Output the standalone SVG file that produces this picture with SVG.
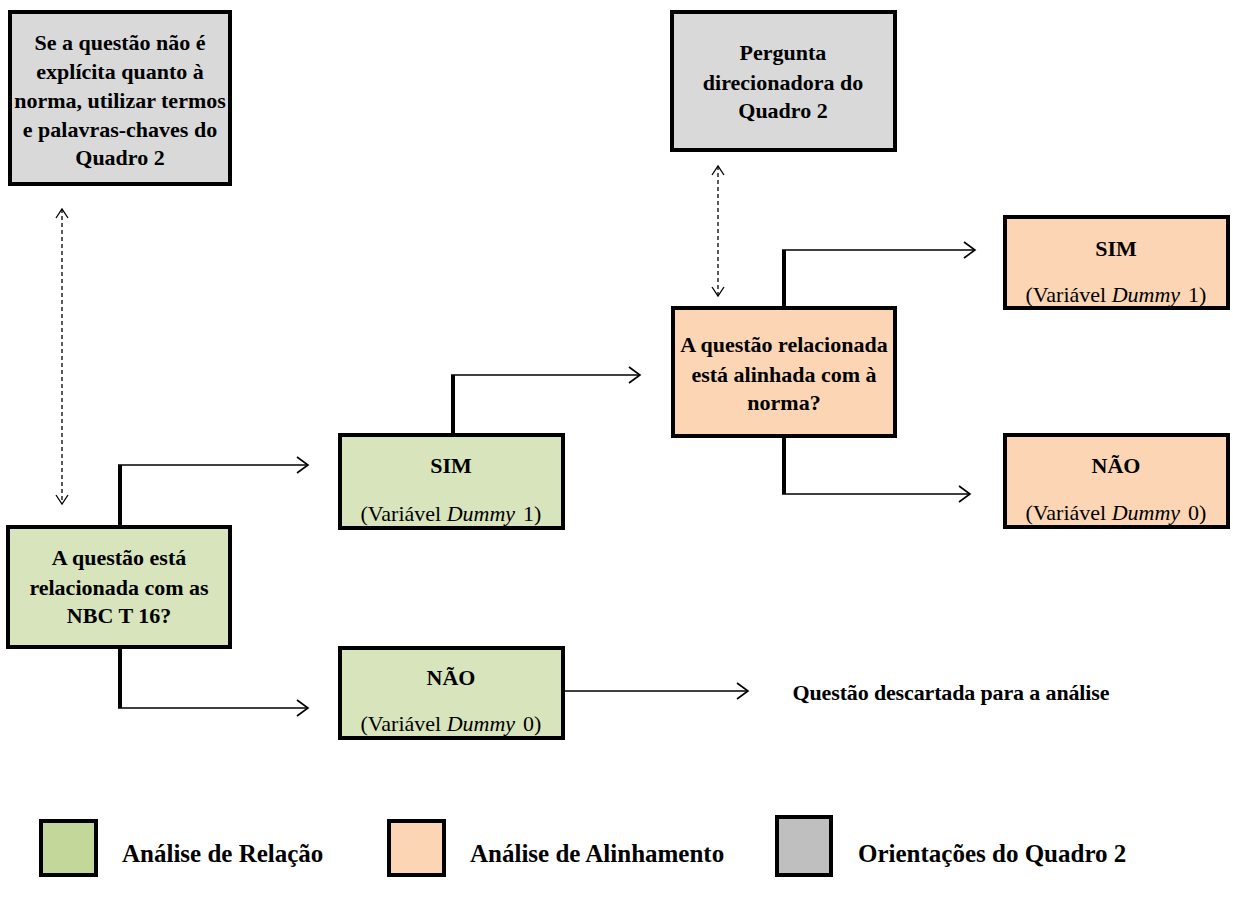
<svg xmlns="http://www.w3.org/2000/svg" width="1233" height="900" viewBox="0 0 1233 900">
<defs>
<style>
.box{stroke:#000;stroke-width:4}
.gray{fill:#d9d9d9}
.green{fill:#d8e4bc}
.orange{fill:#fcd5b4}
.t{font-family:"Liberation Serif","Times New Roman",serif;font-size:22px;fill:#000;text-anchor:middle}
.b{font-weight:bold}
.i{font-style:italic}
.thick{stroke:#000;stroke-width:4;fill:none}
.thin{stroke:#000;stroke-width:1.6;fill:none}
.dash{stroke:#000;stroke-width:1.3;fill:none;stroke-dasharray:4,3}
.leg{font-family:"Liberation Serif","Times New Roman",serif;font-size:25px;font-weight:bold;fill:#000}
</style>
<marker id="arr" markerUnits="userSpaceOnUse" markerWidth="16" markerHeight="20" refX="13" refY="10" orient="auto">
<path d="M2,2 L13,10 L2,18" fill="none" stroke="#000" stroke-width="1.6"/>
</marker>
<marker id="darr" markerUnits="userSpaceOnUse" markerWidth="14" markerHeight="16" refX="11" refY="8" orient="auto-start-reverse">
<path d="M2,2 L11,8 L2,14" fill="none" stroke="#000" stroke-width="1.3"/>
</marker>
</defs>
<rect width="1233" height="900" fill="#fff"/>

<g id="connectors">
<path class="dash" d="M62,209 V504" marker-start="url(#darr)" marker-end="url(#darr)"/>
<path class="dash" d="M718,166 V296" marker-start="url(#darr)" marker-end="url(#darr)"/>
<path class="thick" d="M120,527 V465"/>
<path class="thin" d="M118,465 H308" marker-end="url(#arr)"/>
<path class="thick" d="M120,647 V708"/>
<path class="thin" d="M118,708 H308" marker-end="url(#arr)"/>
<path class="thick" d="M453,435 V375"/>
<path class="thin" d="M451,375 H640" marker-end="url(#arr)"/>
<path class="thin" d="M563,691 H748" marker-end="url(#arr)"/>
<path class="thick" d="M784,308 V250"/>
<path class="thin" d="M782,250 H975" marker-end="url(#arr)"/>
<path class="thick" d="M784,436 V494"/>
<path class="thin" d="M782,494 H970" marker-end="url(#arr)"/>
</g>

<g id="node-orientacao">
<rect class="box gray" x="10" y="12" width="220" height="172"/>
<text class="t b" x="120" y="50">Se a questão não é</text>
<text class="t b" x="120" y="79">explícita quanto à</text>
<text class="t b" x="120" y="108">norma, utilizar termos</text>
<text class="t b" x="120" y="137">e palavras-chaves do</text>
<text class="t b" x="120" y="165">Quadro 2</text>
</g>

<g id="node-pergunta">
<rect class="box gray" x="672" y="12" width="223" height="138"/>
<text class="t b" x="783" y="60">Pergunta</text>
<text class="t b" x="783" y="90">direcionadora do</text>
<text class="t b" x="783" y="118">Quadro 2</text>
</g>

<g id="node-relacao">
<rect class="box green" x="8" y="527" width="222" height="120"/>
<text class="t b" x="119" y="565">A questão está</text>
<text class="t b" x="119" y="595">relacionada com as</text>
<text class="t b" x="119" y="623">NBC T 16?</text>
</g>

<g id="node-sim1">
<rect class="box green" x="340" y="435" width="223" height="93"/>
<text class="t b" x="451" y="473">SIM</text>
<text class="t" x="451" y="521">(Variável <tspan class="i">Dummy</tspan><tspan dx="8">1)</tspan></text>
</g>

<g id="node-nao1">
<rect class="box green" x="340" y="648" width="223" height="90"/>
<text class="t b" x="451" y="685">NÃO</text>
<text class="t" x="451" y="731">(Variável <tspan class="i">Dummy</tspan><tspan dx="8">0)</tspan></text>
</g>

<g id="node-descartada">
<text class="t b" x="951" y="700" textLength="317" lengthAdjust="spacing">Questão descartada para a análise</text>
</g>

<g id="node-alinhamento">
<rect class="box orange" x="673" y="308" width="222" height="128"/>
<text class="t b" x="784" y="352">A questão relacionada</text>
<text class="t b" x="784" y="382">está alinhada com à</text>
<text class="t b" x="784" y="410">norma?</text>
</g>

<g id="node-sim2">
<rect class="box orange" x="1005" y="217" width="223" height="91"/>
<text class="t b" x="1116" y="256">SIM</text>
<text class="t" x="1116" y="302">(Variável <tspan class="i">Dummy</tspan><tspan dx="8">1)</tspan></text>
</g>

<g id="node-nao2">
<rect class="box orange" x="1005" y="435" width="223" height="92"/>
<text class="t b" x="1116" y="473">NÃO</text>
<text class="t" x="1116" y="520">(Variável <tspan class="i">Dummy</tspan><tspan dx="8">0)</tspan></text>
</g>

<g id="legend">
<rect x="41" y="821" width="55" height="54" fill="#c4d79b" stroke="#000" stroke-width="4"/>
<text class="leg" x="122" y="862">Análise de Relação</text>
<rect x="389" y="821" width="55" height="54" fill="#fcd5b5" stroke="#000" stroke-width="4"/>
<text class="leg" x="470" y="862">Análise de Alinhamento</text>
<rect x="777" y="817" width="54" height="58" fill="#bfbfbf" stroke="#000" stroke-width="4"/>
<text class="leg" x="858" y="862">Orientações do Quadro 2</text>
</g>
</svg>
